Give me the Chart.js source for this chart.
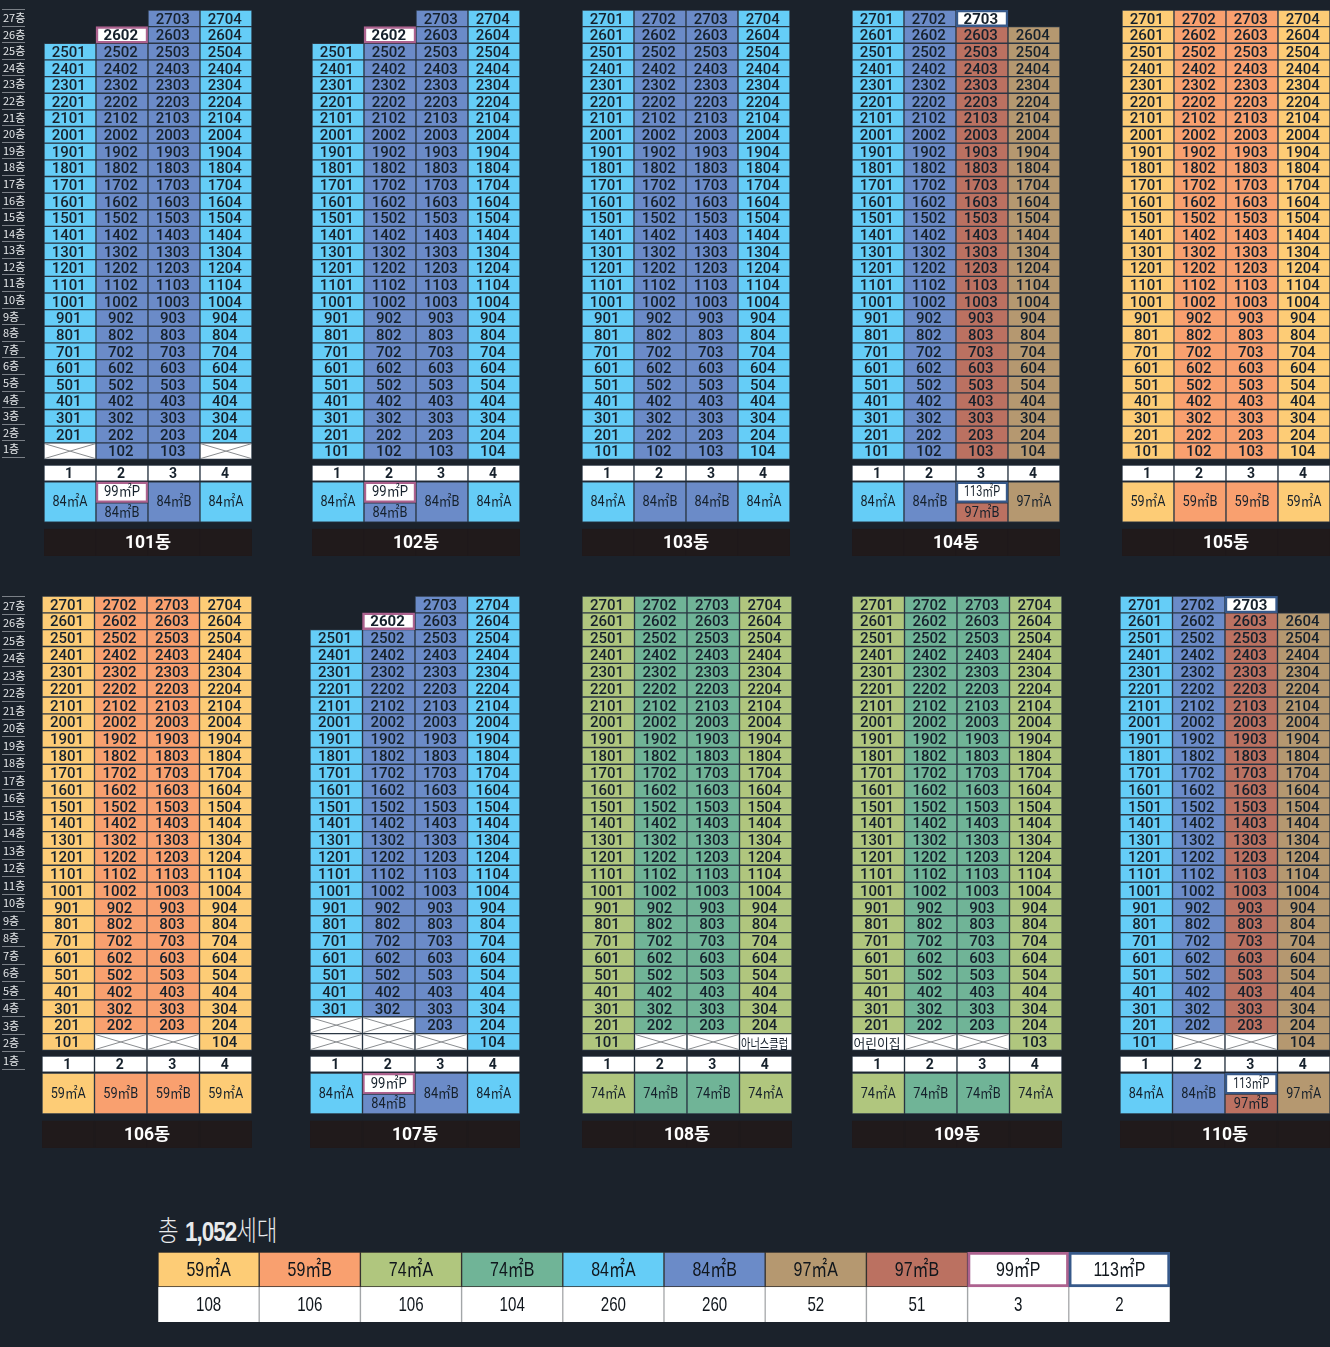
<!DOCTYPE html>
<html lang="ko">
<head>
<meta charset="utf-8">
<title>동호수 배치도</title>
<script src="https://cdn.jsdelivr.net/npm/chart.js@4"></script>
<style>
html, body { margin: 0; padding: 0; background: #1b222b; }
#page { position: relative; width: 1330px; height: 1347px; overflow: hidden; }
canvas { position: absolute; }
#total { position: absolute; left: 158px; top: 1210px; color: #e8eaec; font: 300 28px "Noto Sans CJK KR"; transform: scaleX(0.8); transform-origin: left top; white-space: nowrap; line-height: 38px; }
#total b { font-weight: 700; font-family: "Liberation Sans", "Noto Sans CJK KR"; letter-spacing: -1.2px; }
</style>
</head>
<body>
<div id="page">
  <div id="total">총 <b>1,052</b>세대</div>
</div>
<script>
// floor and line labels
const floorLabels = ['27층','26층','25층','24층','23층','22층','21층','20층','19층','18층','17층','16층','15층','14층','13층','12층','11층','10층','9층','8층','7층','6층','5층','4층','3층','2층','1층'];
const lineNumbers = ['1','2','3','4'];

// one row per building
const buildingNames = ['101동','102동','103동','104동','105동','106동','107동','108동','109동','110동'];
const lineTypes = [
    ['84㎡A','84㎡B','84㎡B','84㎡A'],
    ['84㎡A','84㎡B','84㎡B','84㎡A'],
    ['84㎡A','84㎡B','84㎡B','84㎡A'],
    ['84㎡A','84㎡B','97㎡B','97㎡A'],
    ['59㎡A','59㎡B','59㎡B','59㎡A'],
    ['59㎡A','59㎡B','59㎡B','59㎡A'],
    ['84㎡A','84㎡B','84㎡B','84㎡A'],
    ['74㎡A','74㎡B','74㎡B','74㎡A'],
    ['74㎡A','74㎡B','74㎡B','74㎡A'],
    ['84㎡A','84㎡B','97㎡B','97㎡A']
];
const topFloors = [
    [25,26,27,27],[25,26,27,27],[27,27,27,27],[27,27,27,26],[27,27,27,27],
    [27,27,27,27],[25,26,27,27],[27,27,27,27],[27,27,27,27],[27,27,27,26]
];
const firstFloors = [
    [2,1,1,2],[1,1,1,1],[1,1,1,1],[1,1,1,1],[1,1,1,1],
    [1,2,2,1],[3,3,2,1],[1,2,2,2],[2,2,2,1],[1,2,2,1]
];
// top unit of a line is a penthouse type on some buildings
const penthouseTypes = [
    [null,'99㎡P',null,null],[null,'99㎡P',null,null],[null,null,null,null],[null,null,'113㎡P',null],[null,null,null,null],
    [null,null,null,null],[null,'99㎡P',null,null],[null,null,null,null],[null,null,null,null],[null,null,'113㎡P',null]
];
// [building index, line index, floor, text]
const facilityCells = [[7,3,1,'아너스클럽'],[8,0,1,'어린이집']];
const renamedCells = [[8,3,1,'103']];

// summary table
const typeNames = ['59㎡A','59㎡B','74㎡A','74㎡B','84㎡A','84㎡B','97㎡A','97㎡B','99㎡P','113㎡P'];
const typeCounts = [108,106,106,104,260,260,52,51,3,2];

const typeColors = {
    '59㎡A': '#fdcc76', '59㎡B': '#f9a06f', '74㎡A': '#b0c67e', '74㎡B': '#70b497',
    '84㎡A': '#65cdf7', '84㎡B': '#6b8bc8', '97㎡A': '#b59870', '97㎡B': '#bb7161',
    '99㎡P': '#ffffff', '113㎡P': '#ffffff'
};
const penthouseBorders = { '99㎡P': '#ad628f', '113㎡P': '#37598a' };

const CELL_BORDER = '#2b3744';
const INK = '#16212c';
const CJK = '"Noto Sans CJK KR"';

// canvas placement of each building
const layoutLeft = [44,312,582,852,1122,42,310,582,852,1120];
const layoutWidth = [208,208,208,208,208,210,210,210,210,210];
const layoutTop = [9.5,10,10,10,9.5,595.5,595.5,595.5,595.5,595.5];
const upperPitch = 16.65, lowerPitch = 16.815;

// footer rows, in floor units on the y scale
const lineRow = [-0.8, 0.16];
const typeRow = [-3.27, -0.85];
const typeSplit = -2.1;
const bannerRow = [-5.3, -3.68];

// draws text, X marks and banner names on top of the bars
const cellText = {
    id: 'cellText',
    afterDatasetsDraw(chart) {
        const ctx = chart.ctx;
        chart.data.datasets.forEach((ds, d) => {
            if (!ds.cellLabels) return;
            chart.getDatasetMeta(d).data.forEach((bar, i) => {
                if (ds.data[i] == null) return;
                const props = bar.getProps(['x','y','base','width'], true);
                const top = Math.min(props.y, props.base), bottom = Math.max(props.y, props.base);
                const cx = props.x, cy = (top + bottom) / 2;
                if (ds.crossed && ds.crossed[i]) {
                    const l = cx - props.width / 2, r = cx + props.width / 2;
                    ctx.save();
                    ctx.strokeStyle = '#8a8d90';
                    ctx.lineWidth = 1;
                    ctx.beginPath();
                    ctx.moveTo(l + 1, top + 1); ctx.lineTo(r - 1, bottom - 1);
                    ctx.moveTo(r - 1, top + 1); ctx.lineTo(l + 1, bottom - 1);
                    ctx.stroke();
                    ctx.restore();
                }
                const text = ds.cellLabels[i];
                if (!text) return;
                ctx.save();
                ctx.font = (ds.cellFonts && ds.cellFonts[i]) || ds.cellFont;
                ctx.fillStyle = ds.cellInk || INK;
                ctx.textAlign = 'center';
                ctx.textBaseline = 'middle';
                let fit = ds.cellFit && ds.cellFit[i];
                if (ds.cellSqueeze) fit = ctx.measureText(text).width * ds.cellSqueeze;
                ctx.fillText(text, cx + (ds.nudgeX || 0), cy + (ds.nudgeY || 0), fit || undefined);
                ctx.restore();
            });
        });
        if (chart.options.plugins.cellText.banner) {
            const a = chart.chartArea;
            const y = chart.scales.y.getPixelForValue((bannerRow[0] + bannerRow[1]) / 2);
            ctx.save();
            ctx.font = `700 17.5px Roboto, ${CJK}`;
            ctx.fillStyle = '#ffffff';
            ctx.textAlign = 'center';
            ctx.textBaseline = 'middle';
            ctx.fillText(chart.options.plugins.cellText.banner, (a.left + a.right) / 2, y + 1);
            ctx.restore();
        }
    }
};

function addCanvas(left, top, width, height) {
    const c = document.createElement('canvas');
    c.width = width;
    c.height = height;
    c.style.left = left + 'px';
    c.style.top = top + 'px';
    document.getElementById('page').appendChild(c);
    return c;
}

function facilityAt(b, l, f) {
    const hit = facilityCells.find(c => c[0] === b && c[1] === l && c[2] === f);
    return hit ? hit[3] : null;
}

function floorDataset(b, f) {
    const ds = {
        data: [], backgroundColor: [], borderColor: [], borderWidth: [],
        cellLabels: [], cellFonts: [], cellFit: [], crossed: [],
        cellFont: `500 15px Roboto, ${CJK}`, nudgeX: -1.2, nudgeY: 1.5
    };
    lineNumbers.forEach((n, l) => {
        const top = topFloors[b][l], first = firstFloors[b][l];
        const type = lineTypes[b][l], pent = penthouseTypes[b][l];
        if (f > top) {
            ds.data.push(null);
            ['backgroundColor','borderColor','borderWidth','cellLabels','cellFonts','cellFit','crossed'].forEach(k => ds[k].push(null));
            return;
        }
        ds.data.push([f - 0.5, f + 0.5]);
        const facility = facilityAt(b, l, f);
        const blank = f < first;
        const isPent = pent && f === top;
        let label = String(f * 100 + (l + 1));
        const renamed = renamedCells.find(c => c[0] === b && c[1] === l && c[2] === f);
        if (renamed) label = renamed[3];
        ds.backgroundColor.push(blank || facility ? '#ffffff' : isPent ? '#ffffff' : typeColors[type]);
        ds.borderColor.push(isPent ? penthouseBorders[pent] : CELL_BORDER);
        ds.borderWidth.push(isPent ? 2.5 : 1);
        ds.cellLabels.push(facility ? facility : blank ? null : label);
        ds.cellFonts.push(facility ? `400 13px ${CJK}` : isPent ? `700 15px Roboto, ${CJK}` : null);
        ds.cellFit.push(facility ? 47 : null);
        ds.crossed.push(blank && !facility);
    });
    return ds;
}

function drawBuilding(b) {
    const upper = b < 5;
    const pitch = upper ? upperPitch : lowerPitch;
    const yMax = 27.5, yMin = bannerRow[0];
    const height = Math.round((yMax - yMin) * pitch);
    const canvas = addCanvas(layoutLeft[b], layoutTop[b], layoutWidth[b], height);

    const datasets = [];
    for (let i = 0; i < floorLabels.length; i++) {
        datasets.push(floorDataset(b, 27 - i));
    }
    // line number row
    datasets.push({
        data: lineNumbers.map(() => lineRow),
        backgroundColor: '#ffffff', borderColor: CELL_BORDER, borderWidth: 1,
        cellLabels: lineNumbers, cellFont: `700 14px Roboto`, nudgeX: -1, nudgeY: 1
    });
    // unit type boxes, split in two where a line also holds a penthouse type
    datasets.push({
        data: penthouseTypes[b].map(p => p ? [typeRow[0], typeSplit] : typeRow),
        backgroundColor: lineTypes[b].map(t => typeColors[t]),
        borderColor: CELL_BORDER, borderWidth: 1,
        cellLabels: lineTypes[b], cellFont: `400 14.5px Roboto, ${CJK}`, nudgeY: 0.5,
        cellFit: lineTypes[b].map(() => 35)
    });
    datasets.push({
        data: penthouseTypes[b].map(p => p ? [typeSplit, typeRow[1]] : null),
        backgroundColor: '#ffffff',
        borderColor: penthouseTypes[b].map(p => p ? penthouseBorders[p] : CELL_BORDER),
        borderWidth: 2.5,
        cellLabels: penthouseTypes[b], cellFont: `400 14.5px Roboto, ${CJK}`, nudgeY: 0.5,
        cellFit: penthouseTypes[b].map(() => 36)
    });
    // name banner
    datasets.push({
        data: lineNumbers.map(() => bannerRow),
        backgroundColor: '#201a1b', borderColor: '#201a1b', borderWidth: 1
    });

    new Chart(canvas, {
        type: 'bar',
        data: { labels: lineNumbers, datasets: datasets },
        options: {
            responsive: false,
            animation: false,
            devicePixelRatio: 1,
            layout: { padding: 0 },
            datasets: { bar: { grouped: false, barPercentage: 1, categoryPercentage: 1, borderSkipped: false } },
            scales: {
                x: { display: false },
                y: { display: false, min: yMin, max: yMax }
            },
            plugins: {
                legend: { display: false },
                tooltip: { enabled: false },
                cellText: { banner: buildingNames[b] }
            }
        },
        plugins: [cellText]
    });
}

// canvas is taller than the axis because the first and last tick labels reserve half their height
function drawFloorAxis(top, height) {
    const canvas = addCanvas(0, top, 25, height);
    new Chart(canvas, {
        type: 'bar',
        data: { labels: floorLabels, datasets: [{ data: floorLabels.map(() => null) }] },
        options: {
            indexAxis: 'y',
            responsive: false,
            animation: false,
            devicePixelRatio: 1,
            layout: { padding: 0 },
            scales: {
                x: { display: false, min: 0, max: 1 },
                y: {
                    border: { display: false },
                    grid: { color: '#7b8087', drawTicks: false, tickLength: 0, offset: true },
                    ticks: {
                        mirror: true, padding: 1, autoSkip: false, color: '#e4e6e8',
                        font: { size: 11, family: CJK }
                    }
                }
            },
            plugins: { legend: { display: false }, tooltip: { enabled: false } }
        }
    });
}

function drawSummary() {
    const canvas = addCanvas(158, 1251.5, 1012, 70);
    new Chart(canvas, {
        type: 'bar',
        data: {
            labels: typeNames,
            datasets: [
                {
                    data: typeNames.map(() => [1, 2]),
                    backgroundColor: typeNames.map(t => typeColors[t]),
                    borderColor: typeNames.map(t => penthouseBorders[t] || 'rgba(70,60,50,0.55)'),
                    borderWidth: typeNames.map(t => penthouseBorders[t] ? 3 : 1),
                    cellLabels: typeNames,
                    cellFont: `400 21px "Liberation Sans", ${CJK}`,
                    cellInk: '#10161c',
                    cellSqueeze: 0.76,
                    nudgeY: 1
                },
                {
                    data: typeCounts.map(() => [0, 1]),
                    backgroundColor: '#ffffff',
                    borderColor: '#a9abad',
                    borderWidth: { left: 1, right: 1, top: 0, bottom: 0 },
                    cellLabels: typeCounts.map(String),
                    cellFont: `400 21px "Liberation Sans", ${CJK}`,
                    cellInk: '#10161c',
                    cellSqueeze: 0.72,
                    nudgeY: 1
                }
            ]
        },
        options: {
            responsive: false,
            animation: false,
            devicePixelRatio: 1,
            layout: { padding: 0 },
            datasets: { bar: { grouped: false, barPercentage: 1, categoryPercentage: 1, borderSkipped: false } },
            scales: {
                x: { display: false },
                y: { display: false, min: 0, max: 2 }
            },
            plugins: { legend: { display: false }, tooltip: { enabled: false }, cellText: {} }
        },
        plugins: [cellText]
    });
}

drawFloorAxis(2, 463);
drawFloorAxis(589, 488);
buildingNames.forEach((name, b) => drawBuilding(b));
drawSummary();
</script>
</body>
</html>
